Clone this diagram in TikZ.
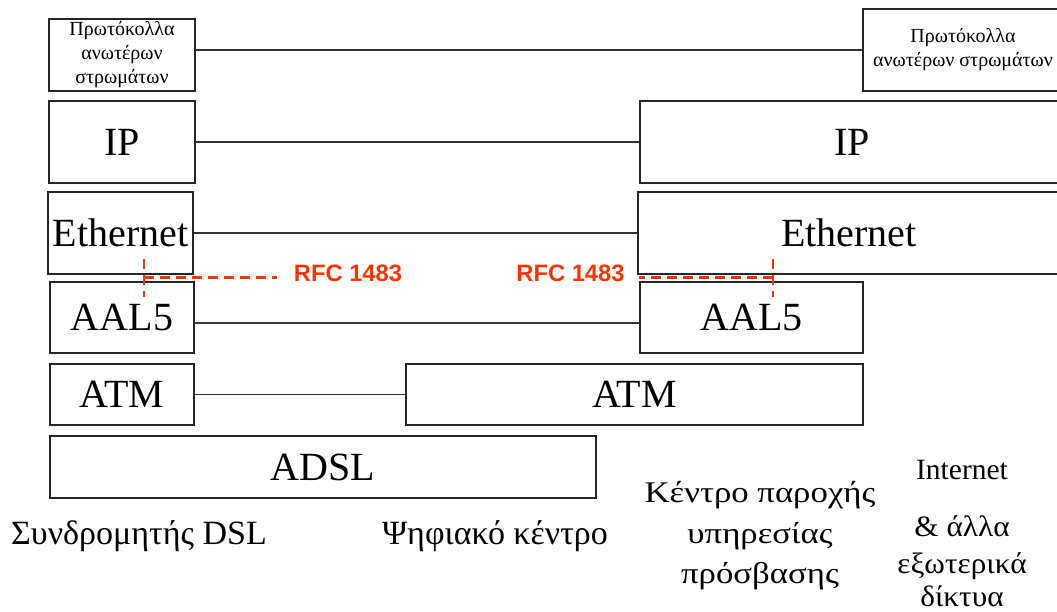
\documentclass[tikz,border=0pt]{standalone}
\usepackage{fontspec}
\setmainfont{Liberation Serif}
\newfontfamily\rfcfont{Liberation Sans}
\newfontfamily\widegreek[FakeStretch=1.16]{Liberation Serif}
\newfontfamily\netgreek[FakeStretch=1.06]{Liberation Serif}
\definecolor{rfcred}{RGB}{255,51,0}
\begin{document}
\begin{tikzpicture}[x=1pt,y=-1pt,
  layer/.style={draw=black!85,line width=1.5pt,inner sep=0pt,
    font=\fontsize{40}{46}\selectfont},
  upper/.style={layer,align=center,font=\fontsize{20}{24}\selectfont},
  link/.style={draw=black!80,line width=1.1pt},
  rfc/.style={draw=rfcred,line width=2.5pt,dash pattern=on 10pt off 6pt},
  rfclabel/.style={text=rfcred,inner sep=0pt,font=\rfcfont\bfseries\fontsize{23.7}{28}\selectfont},
  site/.style={inner sep=0pt,anchor=base,font=\fontsize{34}{40}\selectfont},
  nsp/.style={inner sep=0pt,anchor=base,font=\widegreek\fontsize{30}{36}\selectfont},
  net/.style={inner sep=0pt,anchor=base,font=\fontsize{29.5}{35}\selectfont}]
\useasboundingbox (0,0) rectangle (1057,612);

% upper-layer protocol boxes
\node[upper,minimum width=146pt,minimum height=72pt] (ulL) at (122,55)
  {Πρωτόκολλα\\ανωτέρων\\στρωμάτων};
\node[upper,minimum width=200pt,minimum height=82pt] (ulR) at (963,50)
  {Πρωτόκολλα\\ανωτέρων στρωμάτων};

% protocol stacks
\node[layer,minimum width=146pt,minimum height=82pt] (ipL) at (122,142) {IP};
\node[layer,minimum width=424pt,minimum height=82pt] (ipR) at (852,142) {IP};
\node[layer,minimum width=145pt,minimum height=82pt] (ethL) at (120.5,233) {Ethernet};
\node[layer,minimum width=422pt,minimum height=82pt] (ethR) at (849,233) {Ethernet};
\node[layer,minimum width=144pt,minimum height=71pt] (aalL) at (122,317.5) {AAL5};
\node[layer,minimum width=223pt,minimum height=71pt] (aalR) at (751.5,317.5) {AAL5};
\node[layer,minimum width=144pt,minimum height=61pt] (atmL) at (122,394.5) {ATM};
\node[layer,minimum width=457pt,minimum height=61pt] (atmR) at (634.5,394.5) {ATM};
\node[layer,minimum width=546pt,minimum height=62pt] (adsl) at (323,467) {ADSL};

% peer links
\draw[link] (ulR.west) -- (ulR.west -| ulL.east);
\draw[link] (ipL.east) -- (ipR.west);
\draw[link] (ethL.east) -- (ethR.west);
\draw[link] ([yshift=-5.5pt]aalL.east) -- ([yshift=-5.5pt]aalR.west);
\draw[link] (atmL.east) -- (atmR.west);

% RFC 1483 encapsulation
\node[rfclabel] (rfcL) at (348,273) {RFC 1483};
\node[rfclabel] (rfcR) at (570.5,273) {RFC 1483};
\coordinate (rlTop) at (144,259);
\coordinate (rlBot) at (144,297);
\coordinate (rlEnd) at (277,277.5);
\coordinate (rrTop) at (773,259);
\coordinate (rrBot) at (773,297);
\coordinate (rrEnd) at (639,277.5);
\draw[rfc] (rlTop) -- (rlBot);
\draw[rfc] (rlTop |- rlEnd) -- (rlEnd);
\draw[rfc] (rrTop) -- (rrBot);
\draw[rfc] (rrTop |- rrEnd) -- (rrEnd);

% sites
\node[site] (sub) at (139,544) {Συνδρομητής DSL};
\node[site] (dslam) at (495,544) {Ψηφιακό κέντρο};
\node[nsp] (nsp1) at (760,502) {Κέντρο παροχής};
\node[nsp] (nsp2) at (760,543) {υπηρεσίας};
\node[nsp] (nsp3) at (760,583) {πρόσβασης};
\node[net] (net1) at (962,479) {Internet};
\node[net] (net2) at (962,536) {\netgreek\& άλλα};
\node[net] (net3) at (962,573) {\netgreek εξωτερικά};
\node[net] (net4) at (962,606) {\netgreek δίκτυα};
\end{tikzpicture}
\end{document}
